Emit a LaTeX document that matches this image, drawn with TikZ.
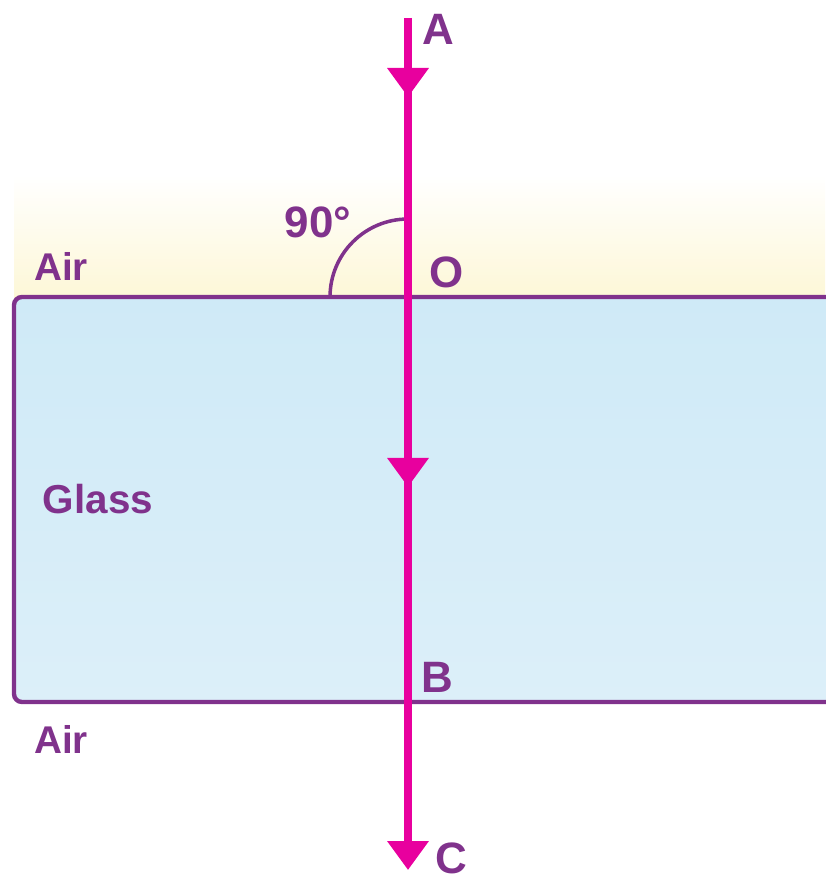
\documentclass[tikz,border=0pt]{standalone}
\usepackage{fontspec}
\setmainfont{Liberation Sans}
\usetikzlibrary{arrows.meta,decorations.markings}
\definecolor{txt}{RGB}{128,50,140}
\definecolor{raycol}{RGB}{232,0,158}
\definecolor{glassA}{RGB}{207,234,247}
\definecolor{glassB}{RGB}{220,239,249}
\definecolor{airY}{RGB}{253,247,215}
\begin{document}
\begin{tikzpicture}[x=0.02cm,y=-0.02cm,
  biglbl/.style={text=txt,font=\bfseries\fontsize{25}{25}\selectfont,anchor=base,inner sep=0pt},
  midlbl/.style={text=txt,font=\bfseries\fontsize{22}{22}\selectfont,anchor=base,inner sep=0pt},
  glasslbl/.style={text=txt,font=\bfseries\fontsize{23}{23}\selectfont,anchor=base,inner sep=0pt}]
\useasboundingbox (0,0) rectangle (825,882);
% air tint above glass
\shade[top color=white,bottom color=airY] (14,175) rectangle (825,297);
% glass block
\path[draw=txt,line width=2.5pt,top color=glassA,bottom color=glassB,rounded corners=0.16cm]
  (14,297) rectangle (845,702);
\coordinate (A) at (408,18);
\coordinate (O) at (408,297);
\coordinate (B) at (408,702);
\coordinate (C) at (408,870);
% angle arc
\draw[txt,line width=2pt] ([xshift=-1.56cm]O) arc[start angle=180,end angle=90,radius=1.56cm];
% ray
\draw[raycol,line width=4pt,-{Triangle[length=0.58cm,width=0.8cm]},
  postaction={decorate},
  decoration={markings,
    mark=at position 1.58cm with {\arrow{Triangle[length=0.58cm,width=0.8cm]}},
    mark=at position 9.38cm with {\arrow{Triangle[length=0.58cm,width=0.8cm]}}}]
  (A) -- (C);
% labels
\node[biglbl] (lA) at (438,45) {A};
\node[biglbl] (lO) at (447,287) {O};
\node[biglbl] (lB) at (437,692) {B};
\node[biglbl] (lC) at (451,873) {C};
\node[biglbl] (ang) at (318,237) {90°};
\node[midlbl] (air1) at (61,280) {Air};
\node[midlbl] (air2) at (61,753) {Air};
\node[glasslbl] (glass) at (98,513) {Glass};
\end{tikzpicture}
\end{document}
